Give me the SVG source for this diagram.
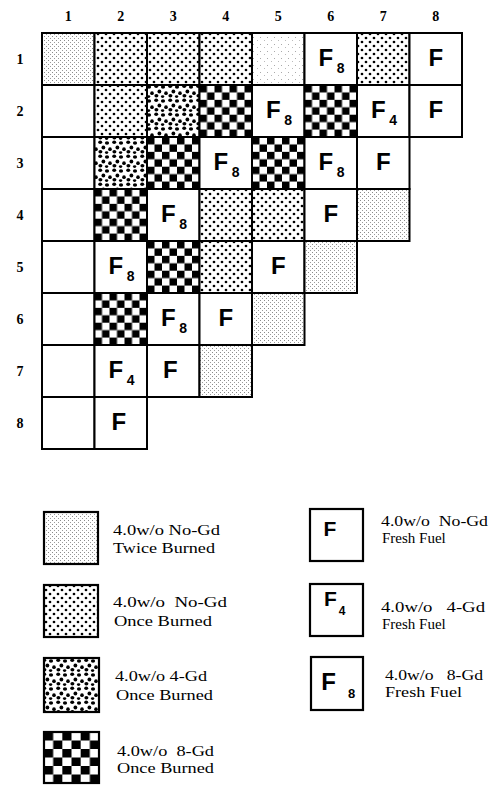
<svg xmlns="http://www.w3.org/2000/svg" width="494" height="785" viewBox="0 0 494 785">
<style>
.cell{stroke:#000;stroke-width:2}
.lbox{stroke:#000;stroke-width:2.2}
.hdr{font-family:"Liberation Serif","Times New Roman",serif;font-weight:bold;font-size:14px;fill:#000;text-anchor:middle}
.F{font-family:"Liberation Sans",Arial,sans-serif;font-weight:bold;font-size:24px;fill:#000;text-anchor:middle}
.sub{font-family:"Liberation Sans",Arial,sans-serif;font-weight:bold;font-size:14px;fill:#000;text-anchor:middle}
.lt{font-family:"Liberation Serif","Times New Roman",serif;font-size:15px;fill:#000;white-space:pre}
.T{fill:url(#twice)}
.Tf{fill:url(#twiceFaint)}
.D{fill:url(#dots)}
.G{fill:url(#gd4)}
.C{fill:url(#checker)}
.W{fill:#fff}
</style>
<defs>
<pattern id="twice" patternUnits="userSpaceOnUse" width="4" height="4">
<rect width="4" height="4" fill="#fff"/>
<rect x="0" y="0" width="1" height="1" fill="#8a8a8a"/>
<rect x="2" y="2" width="1" height="1" fill="#9a9a9a"/>
</pattern>
<pattern id="twiceFaint" patternUnits="userSpaceOnUse" width="7" height="7">
<rect width="7" height="7" fill="#fff"/>
<rect x="1" y="2" width="1" height="1" fill="#aaa"/>
<rect x="5" y="5" width="1" height="1" fill="#bbb"/>
</pattern>
<pattern id="dots" patternUnits="userSpaceOnUse" width="8" height="8">
<rect width="8" height="8" fill="#fff"/>
<circle cx="2" cy="2" r="1.35" fill="#000"/>
<circle cx="6" cy="6" r="1.35" fill="#000"/>
</pattern>
<pattern id="gd4" patternUnits="userSpaceOnUse" width="14" height="14">
<rect width="14" height="14" fill="#fff"/>
<ellipse cx="2.2" cy="2.2" rx="2" ry="1.7" fill="#000"/>
<ellipse cx="9" cy="3" rx="2.1" ry="1.8" fill="#000"/>
<ellipse cx="5.4" cy="7.4" rx="1.9" ry="2" fill="#000"/>
<ellipse cx="12" cy="9.2" rx="1.8" ry="1.9" fill="#000"/>
<ellipse cx="2.4" cy="11.8" rx="2" ry="1.7" fill="#000"/>
<ellipse cx="8.6" cy="12.6" rx="1.7" ry="1.4" fill="#000"/>
</pattern>
<pattern id="checker" patternUnits="objectBoundingBox" patternContentUnits="objectBoundingBox" width="0.285714" height="0.285714">
<rect width="0.285714" height="0.285714" fill="#fff"/>
<rect x="0" y="0" width="0.142857" height="0.142857" fill="#000"/>
<rect x="0.142857" y="0.142857" width="0.142857" height="0.142857" fill="#000"/>
</pattern>
<pattern id="checker6" patternUnits="objectBoundingBox" patternContentUnits="objectBoundingBox" width="0.333333" height="0.333333">
<rect width="0.333333" height="0.333333" fill="#fff"/>
<rect x="0" y="0" width="0.166667" height="0.166667" fill="#000"/>
<rect x="0.166667" y="0.166667" width="0.166667" height="0.166667" fill="#000"/>
</pattern>
</defs>
<rect width="494" height="785" fill="#fff"/>

<g id="headers">
<text class="hdr" x="68.25" y="21">1</text>
<text class="hdr" x="120.75" y="21">2</text>
<text class="hdr" x="173.25" y="21">3</text>
<text class="hdr" x="225.75" y="21">4</text>
<text class="hdr" x="278.25" y="21">5</text>
<text class="hdr" x="330.75" y="21">6</text>
<text class="hdr" x="383.25" y="21">7</text>
<text class="hdr" x="435.75" y="21">8</text>
<text class="hdr" x="20" y="64">1</text>
<text class="hdr" x="20" y="116">2</text>
<text class="hdr" x="20" y="168">3</text>
<text class="hdr" x="20" y="220">4</text>
<text class="hdr" x="20" y="272">5</text>
<text class="hdr" x="20" y="324">6</text>
<text class="hdr" x="20" y="376">7</text>
<text class="hdr" x="20" y="428">8</text>
</g>

<g id="grid">
<g id="r1c1"><rect class="cell T" x="42" y="33" width="52.5" height="52"/></g>
<g id="r1c2"><rect class="cell D" x="94.5" y="33" width="52.5" height="52"/></g>
<g id="r1c3"><rect class="cell D" x="147" y="33" width="52.5" height="52"/></g>
<g id="r1c4"><rect class="cell D" x="199.5" y="33" width="52.5" height="52"/></g>
<g id="r1c5"><rect class="cell Tf" x="252" y="33" width="52.5" height="52"/></g>
<g id="r1c6"><rect class="cell W" x="304.5" y="33" width="52.5" height="52"/><text class="F" x="325.75" y="66">F</text><text class="sub" x="340.75" y="73">8</text></g>
<g id="r1c7"><rect class="cell D" x="357" y="33" width="52.5" height="52"/></g>
<g id="r1c8"><rect class="cell W" x="409.5" y="33" width="52.5" height="52"/><text class="F" x="435.75" y="66">F</text></g>
<g id="r2c1"><rect class="cell W" x="42" y="85" width="52.5" height="52"/></g>
<g id="r2c2"><rect class="cell D" x="94.5" y="85" width="52.5" height="52"/></g>
<g id="r2c3"><rect class="cell G" x="147" y="85" width="52.5" height="52"/></g>
<g id="r2c4"><rect class="cell C" x="199.5" y="85" width="52.5" height="52"/></g>
<g id="r2c5"><rect class="cell W" x="252" y="85" width="52.5" height="52"/><text class="F" x="273.25" y="118">F</text><text class="sub" x="288.25" y="125">8</text></g>
<g id="r2c6"><rect class="cell C" x="304.5" y="85" width="52.5" height="52"/></g>
<g id="r2c7"><rect class="cell W" x="357" y="85" width="52.5" height="52"/><text class="F" x="378.25" y="118">F</text><text class="sub" x="393.25" y="125">4</text></g>
<g id="r2c8"><rect class="cell W" x="409.5" y="85" width="52.5" height="52"/><text class="F" x="435.75" y="118">F</text></g>
<g id="r3c1"><rect class="cell W" x="42" y="137" width="52.5" height="52"/></g>
<g id="r3c2"><rect class="cell G" x="94.5" y="137" width="52.5" height="52"/></g>
<g id="r3c3"><rect class="cell C" x="147" y="137" width="52.5" height="52"/></g>
<g id="r3c4"><rect class="cell W" x="199.5" y="137" width="52.5" height="52"/><text class="F" x="220.75" y="170">F</text><text class="sub" x="235.75" y="177">8</text></g>
<g id="r3c5"><rect class="cell C" x="252" y="137" width="52.5" height="52"/></g>
<g id="r3c6"><rect class="cell W" x="304.5" y="137" width="52.5" height="52"/><text class="F" x="325.75" y="170">F</text><text class="sub" x="340.75" y="177">8</text></g>
<g id="r3c7"><rect class="cell W" x="357" y="137" width="52.5" height="52"/><text class="F" x="383.25" y="170">F</text></g>
<g id="r4c1"><rect class="cell W" x="42" y="189" width="52.5" height="52"/></g>
<g id="r4c2"><rect class="cell C" x="94.5" y="189" width="52.5" height="52"/></g>
<g id="r4c3"><rect class="cell W" x="147" y="189" width="52.5" height="52"/><text class="F" x="168.25" y="222">F</text><text class="sub" x="183.25" y="229">8</text></g>
<g id="r4c4"><rect class="cell D" x="199.5" y="189" width="52.5" height="52"/></g>
<g id="r4c5"><rect class="cell D" x="252" y="189" width="52.5" height="52"/></g>
<g id="r4c6"><rect class="cell W" x="304.5" y="189" width="52.5" height="52"/><text class="F" x="330.75" y="222">F</text></g>
<g id="r4c7"><rect class="cell T" x="357" y="189" width="52.5" height="52"/></g>
<g id="r5c1"><rect class="cell W" x="42" y="241" width="52.5" height="52"/></g>
<g id="r5c2"><rect class="cell W" x="94.5" y="241" width="52.5" height="52"/><text class="F" x="115.75" y="274">F</text><text class="sub" x="130.75" y="281">8</text></g>
<g id="r5c3"><rect class="cell C" x="147" y="241" width="52.5" height="52"/></g>
<g id="r5c4"><rect class="cell D" x="199.5" y="241" width="52.5" height="52"/></g>
<g id="r5c5"><rect class="cell W" x="252" y="241" width="52.5" height="52"/><text class="F" x="278.25" y="274">F</text></g>
<g id="r5c6"><rect class="cell T" x="304.5" y="241" width="52.5" height="52"/></g>
<g id="r6c1"><rect class="cell W" x="42" y="293" width="52.5" height="52"/></g>
<g id="r6c2"><rect class="cell C" x="94.5" y="293" width="52.5" height="52"/></g>
<g id="r6c3"><rect class="cell W" x="147" y="293" width="52.5" height="52"/><text class="F" x="168.25" y="326">F</text><text class="sub" x="183.25" y="333">8</text></g>
<g id="r6c4"><rect class="cell W" x="199.5" y="293" width="52.5" height="52"/><text class="F" x="225.75" y="326">F</text></g>
<g id="r6c5"><rect class="cell T" x="252" y="293" width="52.5" height="52"/></g>
<g id="r7c1"><rect class="cell W" x="42" y="345" width="52.5" height="52"/></g>
<g id="r7c2"><rect class="cell W" x="94.5" y="345" width="52.5" height="52"/><text class="F" x="115.75" y="378">F</text><text class="sub" x="130.75" y="385">4</text></g>
<g id="r7c3"><rect class="cell W" x="147" y="345" width="52.5" height="52"/><text class="F" x="170.25" y="378">F</text></g>
<g id="r7c4"><rect class="cell T" x="199.5" y="345" width="52.5" height="52"/></g>
<g id="r8c1"><rect class="cell W" x="42" y="397" width="52.5" height="52"/></g>
<g id="r8c2"><rect class="cell W" x="94.5" y="397" width="52.5" height="52"/><text class="F" x="118.75" y="430">F</text></g>
</g>

<g id="legend">
<g id="leg-twice">
<rect class="lbox T" x="44" y="512" width="54" height="52"/>
<text class="lt" x="113" y="535" textLength="107" lengthAdjust="spacingAndGlyphs">4.0w/o No-Gd</text>
<text class="lt" x="113" y="553" textLength="102" lengthAdjust="spacingAndGlyphs">Twice Burned</text>
</g>
<g id="leg-once-nogd">
<rect class="lbox D" x="44" y="585" width="54" height="52"/>
<text class="lt" x="113" y="607" textLength="114" lengthAdjust="spacingAndGlyphs">4.0w/o  No-Gd</text>
<text class="lt" x="114" y="626" textLength="98" lengthAdjust="spacingAndGlyphs">Once Burned</text>
</g>
<g id="leg-once-4gd">
<rect class="lbox G" x="44" y="658" width="55" height="54"/>
<text class="lt" x="115" y="681" textLength="92" lengthAdjust="spacingAndGlyphs">4.0w/o 4-Gd</text>
<text class="lt" x="116" y="700" textLength="97" lengthAdjust="spacingAndGlyphs">Once Burned</text>
</g>
<g id="leg-once-8gd">
<rect class="lbox" fill="url(#checker6)" x="44" y="732" width="55" height="51"/>
<text class="lt" x="117" y="756" textLength="97" lengthAdjust="spacingAndGlyphs">4.0w/o  8-Gd</text>
<text class="lt" x="117" y="773" textLength="97" lengthAdjust="spacingAndGlyphs">Once Burned</text>
</g>
<g id="leg-fresh">
<rect class="lbox W" x="310" y="509" width="53" height="52"/>
<text class="F" x="330" y="536" style="font-size:21px">F</text>
<text class="lt" x="381" y="526" textLength="107" lengthAdjust="spacingAndGlyphs">4.0w/o  No-Gd</text>
<text class="lt" x="382" y="543">Fresh Fuel</text>
</g>
<g id="leg-fresh-4gd">
<rect class="lbox W" x="310" y="584" width="53" height="52"/>
<text class="F" x="330.5" y="606" style="font-size:21px">F</text>
<text class="sub" x="342" y="615" style="font-size:12px">4</text>
<text class="lt" x="381" y="612" textLength="104" lengthAdjust="spacingAndGlyphs">4.0w/o   4-Gd</text>
<text class="lt" x="382" y="629">Fresh Fuel</text>
</g>
<g id="leg-fresh-8gd">
<rect class="lbox W" x="311" y="657" width="52" height="53"/>
<text class="F" x="328.5" y="690" style="font-size:24px">F</text>
<text class="sub" x="351.5" y="698" style="font-size:13px">8</text>
<text class="lt" x="385" y="680" textLength="98" lengthAdjust="spacingAndGlyphs">4.0w/o   8-Gd</text>
<text class="lt" x="385" y="697" textLength="77" lengthAdjust="spacingAndGlyphs">Fresh Fuel</text>
</g>
</g>
</svg>
